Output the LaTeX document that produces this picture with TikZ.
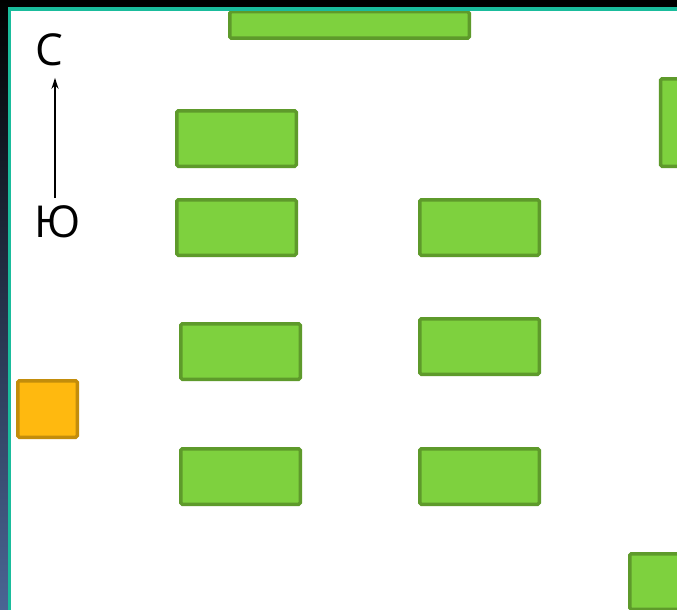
\documentclass[tikz,border=0pt]{standalone}
\usepackage{fontspec}
\setmainfont{Open Sans}
\usetikzlibrary{positioning,arrows.meta}
\definecolor{deskfill}{HTML}{7ED13E}
\definecolor{deskline}{HTML}{5E9A2B}
\definecolor{boardfill}{HTML}{FFB90F}
\definecolor{boardline}{HTML}{C38D0B}
\definecolor{frameteal}{HTML}{1ABC9C}
\definecolor{stripblue}{HTML}{4A6594}

\begin{document}
\begin{tikzpicture}[x=1pt,y=-1pt,
  desk/.style={draw=deskline,fill=deskfill,line width=3.5pt,rounded corners=1.5pt,
    minimum width=119.5pt,minimum height=55.5pt,inner sep=0pt},
  board/.style={draw=boardline,fill=boardfill,line width=3.5pt,rounded corners=1.5pt,
    minimum width=59.5pt,minimum height=56.5pt,inner sep=0pt},
  compass/.style={inner sep=0pt,font=\fontsize{44}{44}\selectfont},
  pointer/.style={line width=2pt,-{Stealth[length=11pt,width=7pt]}}]

\useasboundingbox (0,0) rectangle (677,610);
\clip (0,0) rectangle (677,610);
\fill[white] (0,0) rectangle (677,610);

% desks
\node[desk,minimum height=26.5pt,minimum width=239.5pt] (top) at (349.5,25)  {};
\node[desk]                                          (a1)    at (236.5,138.5) {};
\node[desk]                                          (a2)    at (236.5,227.5) {};
\node[desk]                                          (a3)    at (240.5,351.5) {};
\node[desk]                                          (a4)    at (240.5,476.5) {};
\node[desk]                                          (b2)    at (479.5,227.5) {};
\node[desk]                                          (b3)    at (479.5,346.5) {};
\node[desk]                                          (b4)    at (479.5,476.5) {};
\node[desk,minimum width=56pt,minimum height=87.5pt] (right) at (688.5,122.5) {};
\node[desk]                                          (corner) at (689.5,581.5) {};

% board
\node[board] (desk0) at (47.5,409) {};

% compass
\node[compass] (se) at (49.5,49.5)  {С};
\node[compass] (yu) at (57.5,221.5) {Ю};
\draw[pointer] ([xshift=-2.5pt,yshift=7pt]yu.north) -- ([xshift=5.5pt,yshift=-12pt]se.south);

% frame
\fill[black] (0,0) rectangle (677,7);
\shade[top color=black,bottom color=stripblue] (0,0) rectangle (8,610);
\fill[frameteal] (8,7) rectangle (677,11);
\fill[frameteal] (8,7) rectangle (11,610);
\end{tikzpicture}
\end{document}
